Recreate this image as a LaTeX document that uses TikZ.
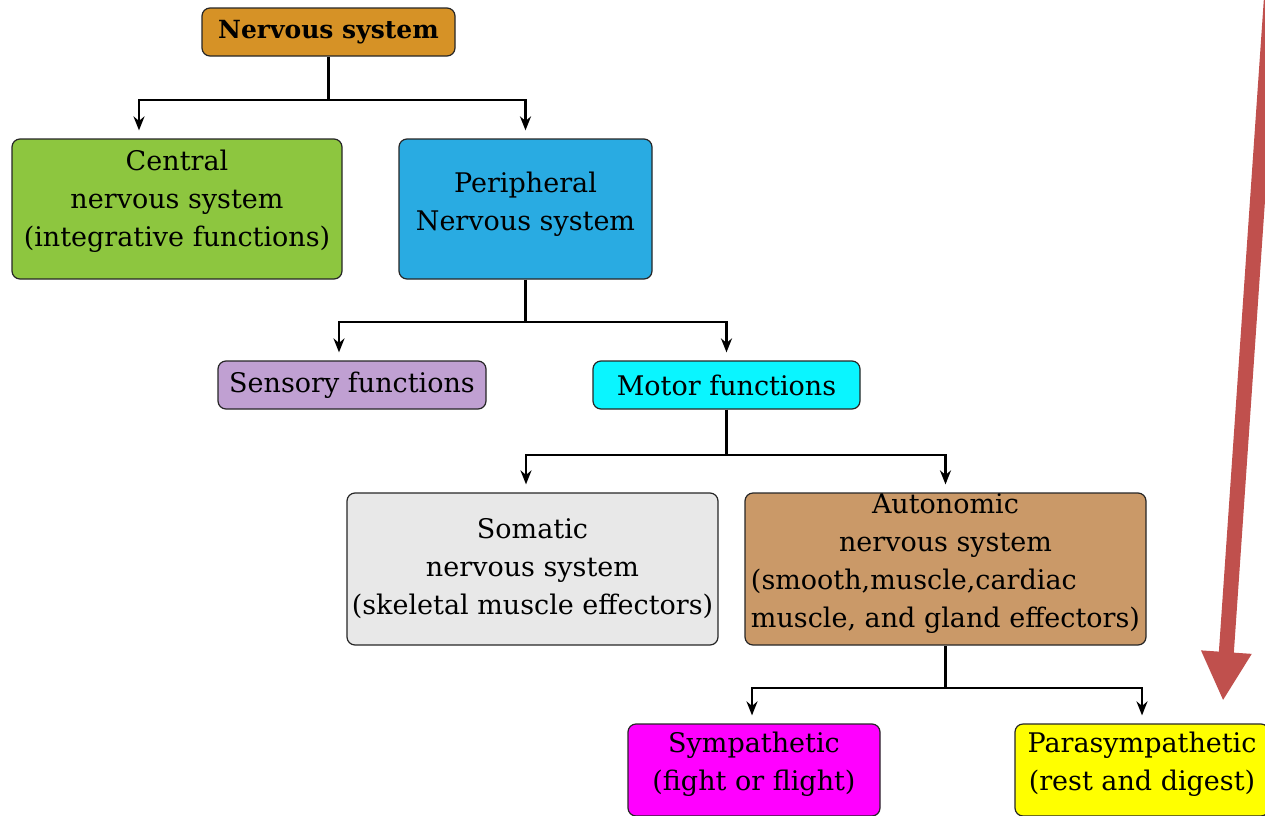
\documentclass[tikz,border=0pt]{standalone}
\usepackage{fontspec}
\setmainfont{DejaVu Serif}
\usetikzlibrary{arrows.meta}

\definecolor{nsorange}{RGB}{214,146,38}
\definecolor{cnsgreen}{RGB}{141,198,63}
\definecolor{pnsblue}{RGB}{41,171,226}
\definecolor{senlilac}{RGB}{192,160,210}
\definecolor{motcyan}{RGB}{10,245,255}
\definecolor{somgray}{RGB}{232,232,232}
\definecolor{auttan}{RGB}{202,153,104}
\definecolor{symmagenta}{RGB}{255,0,255}
\definecolor{paryellow}{RGB}{255,255,0}
\definecolor{bigred}{RGB}{192,80,77}

% stacked lines, optionally lifted inside the box
\newcommand{\nodelines}[2][0pt]{\raisebox{#1}[\height][\depth]{\begin{tabular}{@{}c@{}}#2\end{tabular}}}

\tikzset{
  box/.style={draw=black!85, line width=0.6pt, rounded corners=4pt, align=center,
    inner sep=0pt, font=\fontsize{13.5}{19}\selectfont},
  conn/.style={line width=1.2pt},
  bigarrow/.style={bigred, line width=7.5pt, -{Triangle[width=23.5pt,length=24.5pt]}}
}

\begin{document}
\begin{tikzpicture}[>={Stealth[length=7pt,width=5.5pt]}, x=0.5pt, y=-0.5pt]
    \useasboundingbox (0,0) rectangle (1265,815);

    % Boxes
    \node[box, fill=nsorange, minimum width=126.5pt, minimum height=24pt,
          font=\fontsize{12.5}{19}\selectfont\bfseries] (ns) at (328.5,32) {Nervous system};
    \node[box, fill=cnsgreen, minimum width=165pt, minimum height=70pt] (cns) at (177,209)
        {\nodelines[4pt]{Central\\ nervous system\\ (integrative functions)}};
    \node[box, fill=pnsblue, minimum width=126.5pt, minimum height=70pt] (pns) at (525.5,209)
        {\nodelines[2.5pt]{Peripheral\\ Nervous system}};
    \node[box, fill=senlilac, minimum width=134pt, minimum height=24pt] (sen) at (352,385) {Sensory functions};
    \node[box, fill=motcyan, minimum width=133.5pt, minimum height=24pt] (mot) at (726.5,385) {Motor functions};
    \node[box, fill=somgray, minimum width=185.5pt, minimum height=76pt] (som) at (532.5,569)
        {\nodelines{Somatic\\ nervous system\\ (skeletal muscle effectors)}};
    \node[box, fill=auttan, minimum width=200.5pt, minimum height=76pt] (aut) at (945.5,569)
        {\raisebox{3pt}[\height][\depth]{\begin{tabular}{@{}l@{}}
          \multicolumn{1}{@{}c@{}}{Autonomic}\\
          \multicolumn{1}{@{}c@{}}{nervous system}\\
          (smooth,muscle,cardiac\\
          muscle, and gland effectors)\end{tabular}}};
    \node[box, fill=symmagenta, minimum width=126pt, minimum height=46pt] (sym) at (754,770)
        {\nodelines[3pt]{Sympathetic\\ (fight or flight)}};
    \node[box, fill=paryellow, minimum width=127pt, minimum height=46pt] (par) at (1142,770)
        {\nodelines[3pt]{Parasympathetic\\ (rest and digest)}};

    % Branch points
    \coordinate (b1) at (328.5,100);
    \coordinate (b2) at (525.5,322);
    \coordinate (b3) at (726.5,455);
    \coordinate (b4) at (945.5,688);

    % Connectors
    \draw[conn] (ns.south) -- (b1);
    \draw[conn,->] (b1) -| ([xshift=-19pt,yshift=4pt]cns.north);
    \draw[conn,->] (b1) -| ([yshift=4pt]pns.north);

    \draw[conn] (pns.south) -- (b2);
    \draw[conn,->] (b2) -| ([xshift=-6.5pt,yshift=4pt]sen.north);
    \draw[conn,->] (b2) -| ([yshift=4pt]mot.north);

    \draw[conn] (mot.south) -- (b3);
    \draw[conn,->] (b3) -| ([xshift=-3.25pt,yshift=4pt]som.north);
    \draw[conn,->] (b3) -| ([yshift=4pt]aut.north);

    \draw[conn] (aut.south) -- (b4);
    \draw[conn,->] (b4) -| ([xshift=-1pt,yshift=4pt]sym.north);
    \draw[conn,->] (b4) -| ([yshift=4pt]par.north);

    % Big red arrow
    \coordinate (rtop) at (1272,-10);
    \coordinate (rtip) at (1223,701);
    \draw[bigarrow] (rtop) -- (rtip);
\end{tikzpicture}
\end{document}
